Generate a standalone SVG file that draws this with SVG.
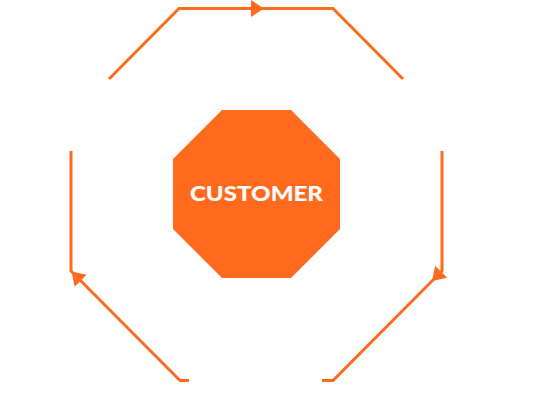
<svg xmlns="http://www.w3.org/2000/svg" width="540" height="403" viewBox="0 0 540 403">
<style>
.flow{fill:none;stroke:#ff6a1f;stroke-width:3;stroke-linejoin:miter;stroke-linecap:butt}
.head{fill:#ff6a1f}
.hub{fill:#ff6a1f}
.label{fill:#ffffff;font-family:Lato,"Open Sans","Liberation Sans",sans-serif;font-weight:900;font-size:21px}
</style>
<defs>
<path id="arrow" d="M0,0 L-13,-8.5 L-13,8.5 Z"/>
</defs>
<rect width="540" height="403" fill="#ffffff"/>
<g id="connectors">
<path class="flow" d="M109,79 L179,8.5 L333,8.5 L403,79"/>
<path class="flow" d="M442,151 L442,271 L333,380.5 L322,380.5"/>
<path class="flow" d="M189,380.5 L180,380.5 L71,271 L71,151"/>
<use href="#arrow" class="head" transform="translate(264,8.5)"/>
<use href="#arrow" class="head" transform="translate(432,281) rotate(135)"/>
<use href="#arrow" class="head" transform="translate(71.5,271.5) rotate(225)"/>
</g>
<g id="customer">
<polygon class="hub" points="222,110 291,110 340,159 340,229 291,278 222,278 173,229 173,159"/>
<text class="label" x="256.5" y="200.5" text-anchor="middle" textLength="133" lengthAdjust="spacingAndGlyphs">CUSTOMER</text>
</g>
</svg>
